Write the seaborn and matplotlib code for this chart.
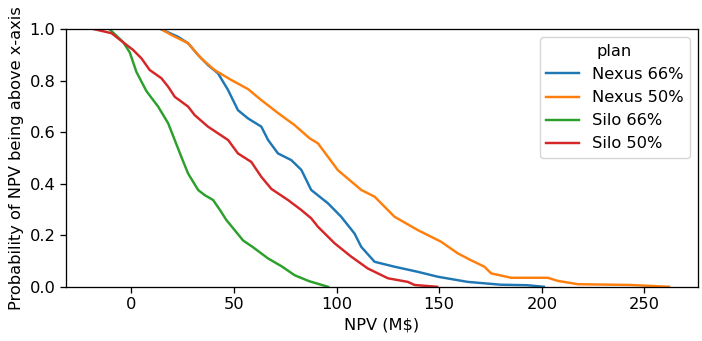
import matplotlib
matplotlib.use("Agg")
import matplotlib.pyplot as plt
import numpy as np
import pandas as pd
import seaborn as sns

# values: NPV (M$) where the survival curve sits at a given probability
plans = ["Nexus 66%", "Nexus 50%", "Silo 66%", "Silo 50%"]

nexus66_npv = [14.6, 22.7, 27.6, 32.5, 37.3, 42.2, 47.1, 51.9, 56.8, 63.3, 66.6, 71.4, 77.9,
               82.8, 87.6, 95.8, 102.2, 108.7, 112.0, 118.5, 128.2, 139.6, 149.3, 163.9,
               180.0, 193.0, 201.0]
nexus66_prob = [1.0, 0.971, 0.946, 0.90, 0.861, 0.829, 0.764, 0.686, 0.654, 0.622, 0.57, 0.518,
                0.492, 0.454, 0.376, 0.324, 0.272, 0.207, 0.155, 0.097, 0.078, 0.058, 0.039,
                0.019, 0.008, 0.006, 0.0]

nexus50_npv = [14.6, 19.5, 27.6, 34.0, 40.5, 48.7, 56.8, 63.3, 71.4, 79.5, 86.8, 90.9, 100.6,
               112.0, 118.5, 128.2, 139.6, 150.9, 159.0, 165.0, 172.0, 175.3, 185.0, 202.9,
               207.7, 217.5, 243.4, 262.0]
nexus50_prob = [1.0, 0.978, 0.946, 0.887, 0.842, 0.803, 0.768, 0.725, 0.675, 0.628, 0.577,
                0.557, 0.453, 0.376, 0.35, 0.272, 0.22, 0.175, 0.13, 0.105, 0.078, 0.052,
                0.035, 0.035, 0.023, 0.01, 0.007, 0.0]

silo66_npv = [-10.6, -4.0, -0.8, 2.4, 7.3, 13.0, 17.9, 21.1, 24.3, 27.6, 32.5, 35.7, 39.8,
              43.0, 46.2, 50.3, 54.4, 59.0, 66.6, 73.5, 79.5, 86.5, 95.8]
silo66_prob = [1.0, 0.95, 0.91, 0.835, 0.76, 0.70, 0.635, 0.57, 0.505, 0.44, 0.376, 0.356,
               0.337, 0.30, 0.26, 0.22, 0.18, 0.155, 0.11, 0.078, 0.045, 0.022, 0.0]

silo50_npv = [-17.9, -9.7, -3.3, 0.8, 4.9, 8.9, 14.6, 17.9, 21.1, 27.6, 30.8, 37.3, 42.2, 47.1,
              51.9, 58.4, 63.3, 68.2, 76.3, 82.8, 87.6, 90.9, 99.0, 107.1, 115.2, 125.0,
              134.7, 138.0, 149.0]
silo50_prob = [1.0, 0.985, 0.945, 0.92, 0.887, 0.842, 0.81, 0.777, 0.738, 0.70, 0.667, 0.622,
               0.596, 0.57, 0.518, 0.485, 0.427, 0.38, 0.337, 0.298, 0.266, 0.233, 0.169,
               0.117, 0.071, 0.033, 0.019, 0.007, 0.0]

df = pd.concat([
    pd.DataFrame({"NPV": nexus66_npv, "prob": nexus66_prob, "plan": plans[0]}),
    pd.DataFrame({"NPV": nexus50_npv, "prob": nexus50_prob, "plan": plans[1]}),
    pd.DataFrame({"NPV": silo66_npv, "prob": silo66_prob, "plan": plans[2]}),
    pd.DataFrame({"NPV": silo50_npv, "prob": silo50_prob, "plan": plans[3]}),
], ignore_index=True)

# the reference looks like a default figure shrunk down, so scale text and strokes up a bit
k = 1.17
plt.rcParams.update({
    "font.size": 10 * k,
    "axes.linewidth": 0.8 * k,
    "xtick.major.size": 3.5 * k,
    "ytick.major.size": 3.5 * k,
    "xtick.major.width": 0.8 * k,
    "ytick.major.width": 0.8 * k,
})

fig, ax = plt.subplots(figsize=(7.02, 3.41), dpi=100)
sns.lineplot(data=df, x="NPV", y="prob", hue="plan", hue_order=plans,
             palette="tab10", estimator=None, sort=False, linewidth=1.5 * k, ax=ax)

ax.set_ylim(0, 1)
ax.set_xlabel("NPV (M$)")
ax.set_ylabel("Probability of NPV being above x-axis")
ax.legend(title="plan", loc="upper right")

fig.subplots_adjust(left=0.094, right=0.994, top=0.914, bottom=0.159)
fig.savefig("out.png", dpi=100)
